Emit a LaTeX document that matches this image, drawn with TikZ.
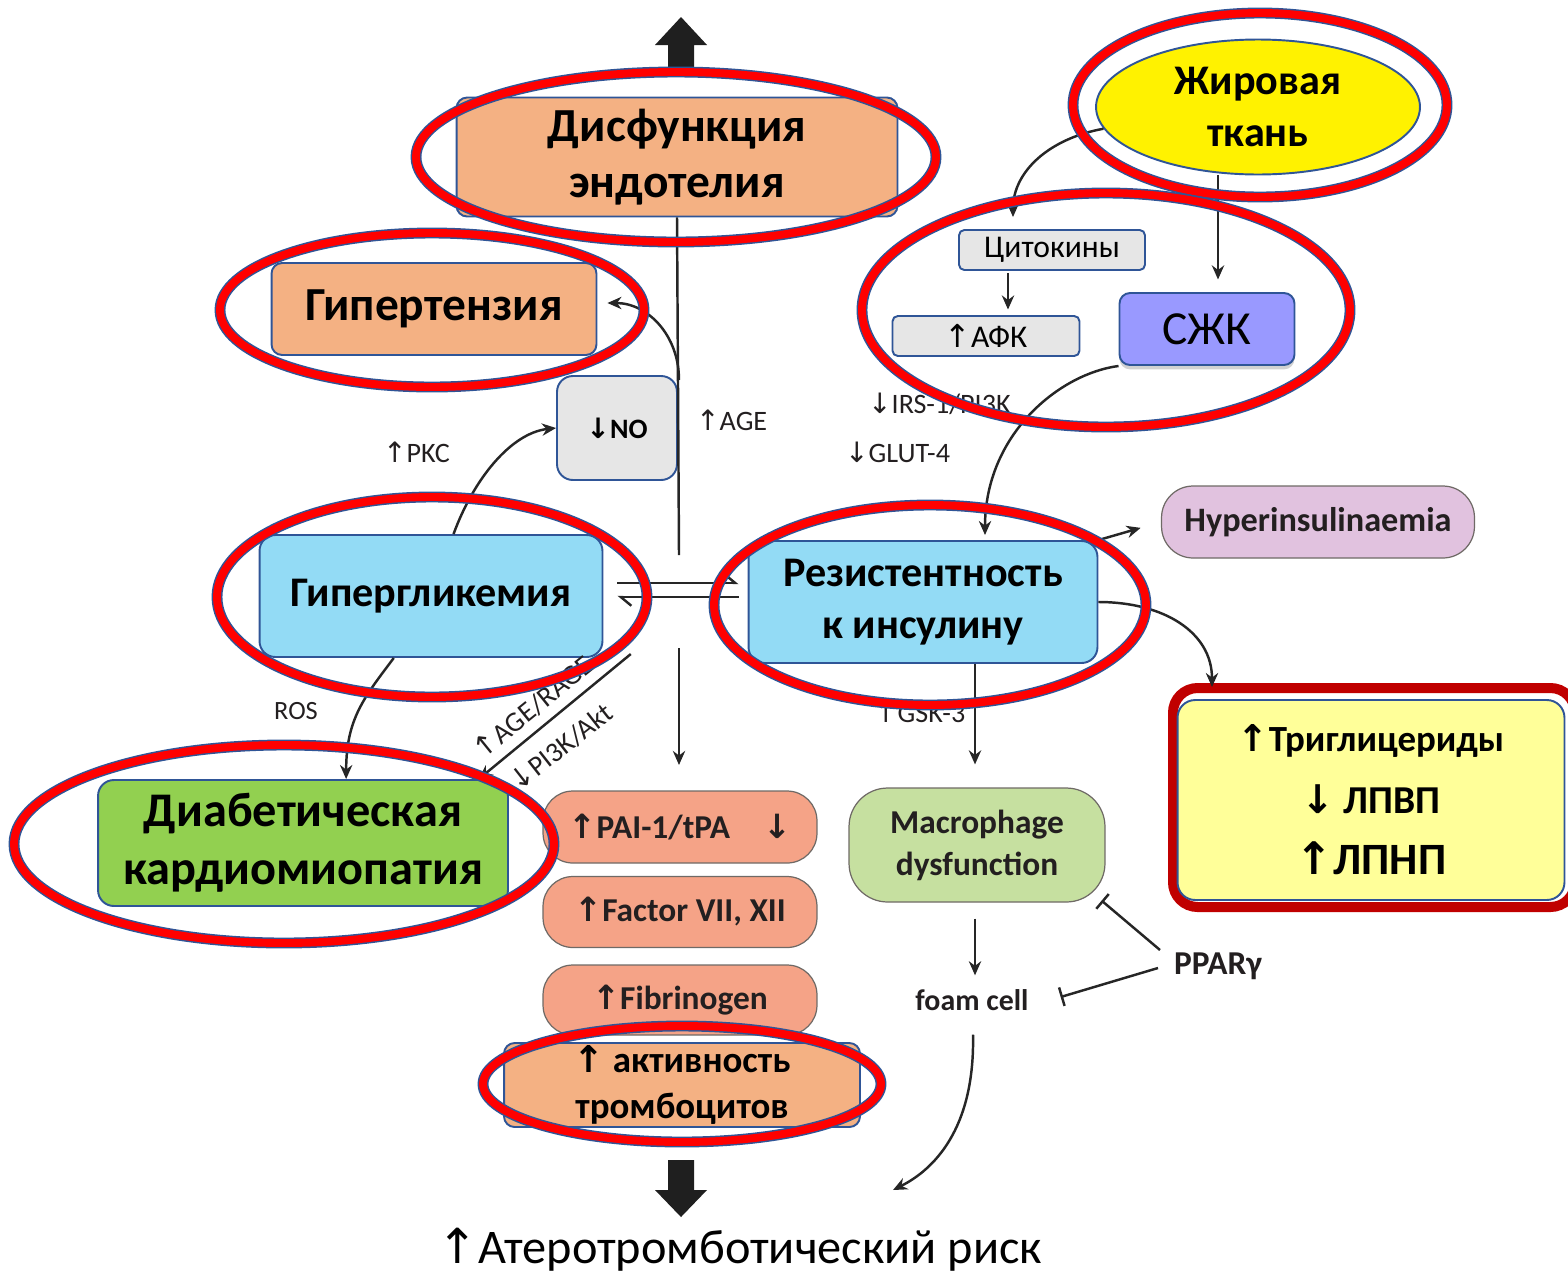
\documentclass[tikz,border=0pt]{standalone}
\usepackage{fontspec}
\setmainfont{Carlito}
\newfontfamily\arrowfont{DejaVu Sans}
\newcommand{\upar}{{\arrowfont ↑}}
\newcommand{\dnar}{{\arrowfont ↓}}
\usetikzlibrary{arrows.meta,shapes.geometric,shadows}
\definecolor{boxblue}{HTML}{2F5597}
\definecolor{orangefill}{HTML}{F4B183}
\definecolor{skyfill}{HTML}{93DBF5}
\definecolor{greenfill}{HTML}{92D050}
\definecolor{greyfill}{HTML}{E6E6E6}
\definecolor{lilacfill}{HTML}{9999FF}
\definecolor{salmonfill}{HTML}{F5A387}
\definecolor{pinkfill}{HTML}{E1C2DF}
\definecolor{sagefill}{HTML}{C6E0A0}
\definecolor{lemonfill}{HTML}{FFFF99}
\definecolor{framered}{HTML}{C00000}
\definecolor{inktext}{HTML}{231F20}
\definecolor{softline}{HTML}{6F6A66}
\begin{document}
\begin{tikzpicture}[x=0.02cm, y=-0.02cm,
    box/.style={rectangle, draw=boxblue, line width=1.1pt, rounded corners=6pt, align=center, inner sep=0pt},
    pill/.style={rectangle, draw=softline, line width=0.7pt, fill=salmonfill, rounded corners=17pt, minimum width=5.48cm, text=inktext, inner sep=0pt, font=\bfseries\fontsize{19}{22}\selectfont},
    tag/.style={text=inktext, inner sep=1pt, font=\fontsize{16}{18}\selectfont},
    link/.style={-{Stealth[length=8pt,width=7pt]}, line width=1.4pt, draw=black!85},
    harp/.style={-{Straight Barb[left,length=6pt,width=10pt]}, line width=1.4pt, draw=black!85},
    inhibit/.style={-{Bar[width=11pt,line width=1.4pt]}, line width=1.4pt, draw=black!85},
    ring/.style={draw=boxblue, line width=0.85pt, double=red, double distance=4.5pt}]
    \useasboundingbox (0, 0) rectangle (1568, 1275);
    \clip (0, 0) rectangle (1568, 1275);

    \fill[black!88] (668, 68) -- (668, 45) -- (655, 45) -- (681, 17) -- (707, 45) -- (694, 45) -- (694, 68) -- cycle;
    \fill[black!88] (668, 1160) -- (668, 1190) -- (655, 1190) -- (681, 1217) -- (707, 1190) -- (694, 1190) -- (694, 1160) -- cycle;

    \node (EndoDysfunction) [box, fill=orangefill, minimum width=8.82cm, minimum height=2.38cm, font=\bfseries\fontsize{27}{32}\selectfont] at (677, 157) {Дисфункция\\эндотелия};
    \node (Hypertension) [box, fill=orangefill, minimum width=6.5cm, minimum height=1.84cm, font=\bfseries\fontsize{27}{30}\selectfont] at (434, 309) {Гипертензия};
    \node (NoLevel) [box, fill=greyfill, rounded corners=9pt, minimum width=2.4cm, minimum height=2.08cm, font=\bfseries\fontsize{16}{19}\selectfont] at (617, 428) {\dnar NO};
    \node (Hyperglycemia) [box, fill=skyfill, rounded corners=9pt, minimum width=6.86cm, minimum height=2.44cm, font=\bfseries\fontsize{24}{28}\selectfont] at (431, 596) {Гипергликемия};
    \node (InsulinResistance) [box, fill=skyfill, rounded corners=9pt, minimum width=6.98cm, minimum height=2.44cm, font=\bfseries\fontsize{24}{30}\selectfont] at (923, 602) {Резистентность\\к инсулину};
    \node (Cardiomyopathy) [box, fill=greenfill, rounded corners=9pt, minimum width=8.2cm, minimum height=2.52cm, font=\bfseries\fontsize{27.5}{33}\selectfont] at (303, 843) {Диабетическая\\кардиомиопатия};
    \node (PaiBox) [pill, minimum height=1.44cm] at (680, 827) {\upar PAI-1/tPA\quad\dnar};
    \node (FactorBox) [pill, minimum height=1.42cm] at (680, 912) {\upar Factor VII, XII};
    \node (FibrinogenBox) [pill, minimum height=1.4cm] at (680, 1000) {\upar Fibrinogen};
    \node (Platelets) [box, fill=orangefill, minimum width=7.12cm, minimum height=1.68cm, font=\bfseries\fontsize{21}{26}\selectfont] at (682, 1085) {\upar\ активность\\тромбоцитов};
    \node (AtheroRisk) [inner sep=0pt, font=\fontsize{27.5}{30}\selectfont] at (740, 1250) {\upar Атеротромботический риск};

    \node (AdiposeTissue) [ellipse, draw=boxblue, line width=1.1pt, fill=yellow, inner sep=0pt, minimum width=6.48cm, minimum height=2.7cm, align=center, font=\bfseries\fontsize{24}{30}\selectfont] at (1258, 107) {Жировая\\ткань};
    \node (Cytokines) [box, fill=greyfill, rounded corners=3pt, minimum width=3.72cm, minimum height=0.8cm, font=\fontsize{18}{20}\selectfont] at (1052, 250) {Цитокины};
    \node (OxSpecies) [box, fill=greyfill, rounded corners=3pt, minimum width=3.74cm, minimum height=0.8cm, font=\fontsize{18}{20}\selectfont] at (986, 336) {\upar АФК};
    \node (FreeFattyAcids) [box, fill=lilacfill, rounded corners=6pt, minimum width=3.5cm, minimum height=1.44cm, font=\fontsize{27}{30}\selectfont, drop shadow={shadow xshift=0pt, shadow yshift=-2.5pt, fill=black!25, opacity=0.7}] at (1207, 329) {СЖК};
    \node (Hyperinsulinaemia) [rectangle, draw=softline, line width=0.7pt, fill=pinkfill, rounded corners=18pt, minimum width=6.26cm, minimum height=1.44cm, text=inktext, font=\bfseries\fontsize{19.5}{22}\selectfont] at (1318, 522) {Hyperinsulinaemia};
    \draw[framered, line width=5.7pt, rounded corners=14pt] (1173, 688) rectangle (1575, 907);
    \node (LipidProfile) [box, fill=lemonfill, rounded corners=10pt, minimum width=7.74cm, minimum height=4cm, font=\bfseries\fontsize{21}{35}\selectfont] at (1371, 800) {\upar Триглицериды\\{\fontsize{22.5}{35}\selectfont\dnar\ ЛПВП}\\{\fontsize{25.5}{35}\selectfont\upar ЛПНП}};
    \node (Macrophage) [rectangle, draw=softline, line width=0.7pt, fill=sagefill, rounded corners=22pt, minimum width=5.12cm, minimum height=2.28cm, align=center, text=inktext, font=\bfseries\fontsize{19}{24}\selectfont] at (977, 845) {Macrophage\\dysfunction};

    \node (AgeTag) [tag, anchor=west] at (694, 420) {\upar AGE};
    \node (PkcTag) [tag, anchor=west] at (381, 452) {\upar PKC};
    \node (RosTag) [tag, font=\fontsize{15}{17}\selectfont] at (296, 711) {ROS};
    \node (IrsTag) [tag, anchor=west] at (866, 404) {\dnar IRS-1/PI3K};
    \node (GlutTag) [tag, anchor=west] at (843, 452) {\dnar GLUT-4};
    \node (GskTag) [tag, anchor=west] at (872, 712) {\upar GSK-3};
    \node (AgeRageTag) [tag, rotate=39] at (533, 707) {\upar AGE/RAGE};
    \node (PiTag) [tag, rotate=38] at (561, 747) {\dnar PI3K/Akt};
    \node (FoamCell) [tag, font=\bfseries\fontsize{17}{19}\selectfont] at (972, 1000) {foam cell};
    \node (Ppar) [tag, font=\bfseries\fontsize{19}{21}\selectfont, anchor=west] at (1172, 966) {PPARγ};

    \coordinate (CenterTop) at (679, 555);
    \coordinate (NoBranch) at (679, 380);
    \coordinate (CenterBottom) at (679, 648);
    \coordinate (CoagTop) at (679, 765);
    \coordinate (FoamEnd) at (893, 1190);

    \draw[line width=1.4pt, draw=black!85] (CenterTop) -- (EndoDysfunction.south);
    \draw[link] (NoBranch) .. controls +(0, -45) and +(40, 0) .. ([shift={(10, -6)}]Hypertension.east);
    \draw[link] (CenterBottom) -- (CoagTop);
    \draw[link] (Hyperglycemia.70) .. controls +(20, -55) and +(-45, 5) .. (NoLevel.west);
    \draw[link] (Hyperglycemia.239) .. controls +(-30, 40) and +(0, -60) .. (Cardiomyopathy.56);
    \draw[link] ([shift={(152, -125)}]Cardiomyopathy.20) -- (Cardiomyopathy.20);
    \draw[harp] ([shift={(14, -13)}]Hyperglycemia.east) -- ([shift={(-9, -19)}]InsulinResistance.west);
    \draw[harp] ([shift={(-9, -5)}]InsulinResistance.west) -- ([shift={(14, 1)}]Hyperglycemia.east);

    \draw[link] (AdiposeTissue.188) .. controls +(-55, 10) and +(0, -45) .. ([shift={(-39, -12)}]Cytokines.north);
    \draw[link] ([shift={(-40, 0)}]AdiposeTissue.south) -- ++(0, 104);
    \draw[link, shorten >=2pt] ([shift={(-44, 2)}]Cytokines.south) -- ([shift={(22, -2)}]OxSpecies.north);
    \draw[link] (FreeFattyAcids.south west) .. controls +(-60, 8) and +(0, -100) .. ([shift={(62, -5)}]InsulinResistance.north);
    \draw[link, shorten >=12pt] (InsulinResistance.north east) -- (Hyperinsulinaemia.west);
    \draw[link] (InsulinResistance.east) .. controls +(65, 0) and +(0, -55) .. ([shift={(-159, -12)}]LipidProfile.north);
    \draw[link] ([shift={(52, 0)}]InsulinResistance.south) -- ([shift={(-2, -23)}]Macrophage.north);
    \draw[link] ([shift={(-2, 16)}]Macrophage.south) -- ([shift={(3, -12)}]FoamCell.north);
    \draw[link] ([shift={(1, 22)}]FoamCell.south) .. controls +(2, 95) and +(40, -20) .. (FoamEnd);
    \draw[inhibit] ([shift={(-12, -16)}]Ppar.west) -- ([shift={(-4, -2)}]Macrophage.south east);
    \draw[inhibit] ([shift={(-14, 2)}]Ppar.west) -- ([shift={(30, -3)}]FoamCell.east);

    \draw[ring] (676, 157) ellipse [x radius=260, y radius=85];
    \draw[ring] (432, 310) ellipse [x radius=212, y radius=77];
    \draw[ring] (432, 597) ellipse [x radius=215, y radius=100];
    \draw[ring] (930, 605) ellipse [x radius=216, y radius=100];
    \draw[ring] (284, 844) ellipse [x radius=270, y radius=99];
    \draw[ring] (682, 1084) ellipse [x radius=199, y radius=58];
    \draw[ring] (1260, 105) ellipse [x radius=187, y radius=92];
    \draw[ring] (1106, 310) ellipse [x radius=244, y radius=117];
\end{tikzpicture}
\end{document}
